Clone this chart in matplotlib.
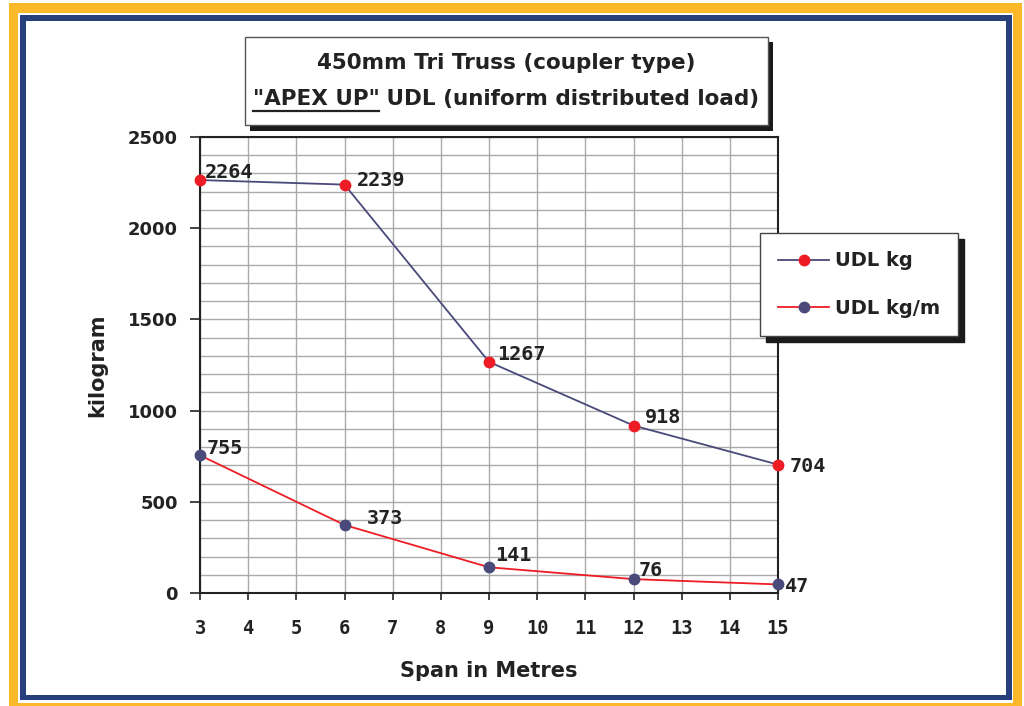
import numpy as np
import matplotlib
matplotlib.use('Agg')
import matplotlib.pyplot as plt
from matplotlib.patches import Rectangle
from matplotlib.lines import Line2D

# data
span = [3, 6, 9, 12, 15]
udl_kg = [2264, 2239, 1267, 918, 704]
udl_kgm = [755, 373, 141, 76, 47]
x_ticks = list(range(3, 16))
y_ticks = [0, 500, 1000, 1500, 2000, 2500]

title1 = '450mm Tri Truss (coupler type)'
title2a = '"APEX UP"'
title2b = ' UDL (uniform distributed load)'

# label offsets in pixels (position only)
off_kg = [(5, 10), (12, 6), (8, 9), (11, 10), (12, 0)]
off_kgm = [(7, 9), (22, 8), (6, 14), (5, 11), (7, 0)]

W, H = 1024, 706
yellow = '#FBB829'
navy = '#273F7C'
red = '#EE1C24'
slate = '#4A4A7A'
txt = '#222222'

fig = plt.figure(figsize=(W / 100, H / 100), dpi=100)
fig.patch.set_facecolor('white')


def px_rect(x0, y0, x1, y1, **kw):
    # rectangle from pixel coords (top-left origin)
    r = Rectangle((x0 / W, 1 - y1 / H), (x1 - x0) / W, (y1 - y0) / H,
                  transform=fig.transFigure, **kw)
    fig.patches.append(r)
    return r


# frame
px_rect(9, 3, 1022, 707, facecolor=yellow, edgecolor='none', zorder=-10)
px_rect(18, 13, 1013, 703, facecolor='white', edgecolor='none', zorder=-9)
px_rect(20, 15, 1012, 700, facecolor=navy, edgecolor='none', zorder=-8)
px_rect(26, 21, 1006, 695, facecolor='white', edgecolor='none', zorder=-7)

ax = fig.add_axes([200 / W, 1 - 593 / H, 578 / W, 456 / H])
ax.set_xlim(3, 15)
ax.set_ylim(0, 2500)
ax.set_xticks(x_ticks)
ax.set_yticks(y_ticks)
ax.set_yticks(np.arange(0, 2501, 100), minor=True)
ax.tick_params(axis='y', which='minor', length=0)
ax.grid(True, which='both', color='#AAAAAA', linewidth=1)
ax.set_axisbelow(True)
for s in ax.spines.values():
    s.set_color(txt)
    s.set_linewidth(1.5)
ax.tick_params(axis='x', which='major', length=5, width=1.2, color=txt,
               pad=14, labelsize=13.5, labelcolor=txt)
ax.tick_params(axis='y', which='major', length=7, width=1.2, color=txt,
               pad=9, labelsize=13, labelcolor=txt)
for lab in ax.get_yticklabels():
    lab.set_fontweight('bold')
for lab in ax.get_xticklabels():
    lab.set_fontweight('bold')
    lab.set_family('DejaVu Sans Mono')

ax.plot(span, udl_kg, color=slate, linewidth=1.3, marker='o', markersize=7.5,
        markerfacecolor=red, markeredgecolor=red, zorder=3, clip_on=False)
ax.plot(span, udl_kgm, color=red, linewidth=1.3, marker='o', markersize=7.5,
        markerfacecolor=slate, markeredgecolor=slate, zorder=3, clip_on=False)

for xv, yv, o in zip(span, udl_kg, off_kg):
    ax.annotate(str(yv), (xv, yv), xytext=o, textcoords='offset pixels',
                ha='left', va='center_baseline', fontsize=14.5, fontweight='bold',
                family='DejaVu Sans Mono', color=txt, annotation_clip=False)
for xv, yv, o in zip(span, udl_kgm, off_kgm):
    ax.annotate(str(yv), (xv, yv), xytext=o, textcoords='offset pixels',
                ha='left', va='center_baseline', fontsize=14.5, fontweight='bold',
                family='DejaVu Sans Mono', color=txt, annotation_clip=False)

ax.set_xlabel('Span in Metres', fontsize=15, fontweight='bold', color=txt,
              labelpad=16)
ax.set_ylabel('kilogram', fontsize=15, fontweight='bold', color=txt,
              labelpad=15)

# legend
handles = [Line2D([], [], color=slate, lw=1.3, marker='o', markersize=7.5,
                  markerfacecolor=red, markeredgecolor=red),
           Line2D([], [], color=red, lw=1.3, marker='o', markersize=7.5,
                  markerfacecolor=slate, markeredgecolor=slate)]
leg = fig.legend(handles, ['UDL kg', 'UDL kg/m'], loc='upper left',
                 bbox_to_anchor=(760 / W, 1 - 233 / H), borderaxespad=0,
                 fancybox=False,
                 framealpha=1, edgecolor='#444444', handlelength=2.6,
                 labelspacing=1.45, borderpad=0.95, handletextpad=0.3,
                 prop={'size': 14, 'weight': 'bold'},
                 shadow={'ox': 4, 'oy': -4, 'color': '#1a1a1a', 'alpha': 1})
for t in leg.get_texts():
    t.set_color(txt)

# title box
px_rect(250, 42, 773, 131, facecolor='#1a1a1a', edgecolor='none', zorder=5)
px_rect(245, 37, 768, 125, facecolor='white', edgecolor='#555555',
        linewidth=1, zorder=6)
cx = 506 / W
tkw = dict(fontsize=15.5, fontweight='bold', color=txt, zorder=7)
fig.text(cx, 1 - 63 / H, title1, ha='center', va='center', **tkw)

r = fig.canvas.get_renderer()
ta = fig.text(0, 0, title2a, **tkw)
wa = ta.get_window_extent(r).width
tfull = fig.text(0, 0, title2a + title2b, **tkw)
wf = tfull.get_window_extent(r).width
tfull.remove()
x0 = cx * W - wf / 2
ta.set_position((x0 / W, 1 - 99 / H))
ta.set_va('center')
fig.text(x0 / W + wa / W, 1 - 99 / H, title2b, ha='left', va='center', **tkw)
fig.lines.append(Line2D([x0 / W, (x0 + wa) / W], [1 - 111 / H, 1 - 111 / H],
                        transform=fig.transFigure, color=txt, lw=1.6, zorder=7))

fig.savefig('out.png', dpi=100)
